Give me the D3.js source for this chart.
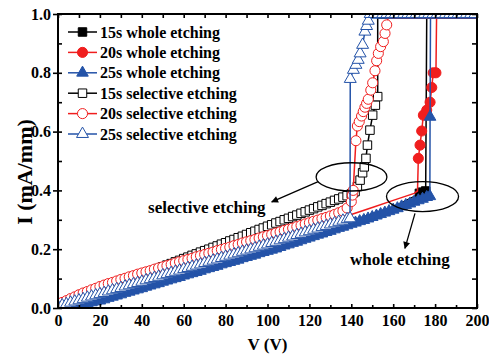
<!DOCTYPE html>
<html>
<head>
<meta charset="utf-8">
<script src="https://cdn.jsdelivr.net/npm/d3@7"></script>
<style>
body { margin: 0; background: #fff; }
svg { display: block; }
text { font-family: "Liberation Serif", "Times New Roman", serif; font-weight: bold; }
</style>
</head>
<body>
<svg id="svg" width="489" height="356"></svg>
<script>
// sweep voltages (V) and currents (mA/mm)
const V_SEL = [0,2,4,6,8,10,12,14,16,18,20,22,24,26,28,30,32,34,36,38,40,42,44,46,48,50,52,54,56,58,60,62,64,66,68,70,72,74,76,78,80,82,84,86,88,90,92,94,96,98,100,102,104,106,108,110,112,114,116,118,120,122,124,126,128,130,132,134,136,138,140]
const SEL15_I = [
	0.010,0.014,0.019,0.023,0.028,0.032,0.037,0.042,0.046,0.051,
	0.056,0.061,0.067,0.072,0.078,0.083,0.088,0.094,0.099,0.105,
	0.110,0.116,0.122,0.128,0.134,0.140,0.146,0.151,0.157,0.162,
	0.168,0.173,0.179,0.184,0.190,0.195,0.200,0.206,0.211,0.217,
	0.222,0.228,0.233,0.239,0.244,0.250,0.256,0.261,0.267,0.272,
	0.278,0.283,0.289,0.294,0.300,0.305,0.311,0.316,0.322,0.327,
	0.333,0.338,0.344,0.349,0.355,0.360,0.366,0.371,0.377,0.382,
	0.388]
const SEL20_I = [
	0.012,0.019,0.025,0.032,0.038,0.045,0.051,0.056,0.062,0.067,
	0.073,0.078,0.083,0.087,0.092,0.097,0.101,0.106,0.110,0.115,
	0.119,0.123,0.127,0.132,0.136,0.140,0.144,0.148,0.153,0.157,
	0.161,0.165,0.169,0.174,0.178,0.182,0.186,0.190,0.195,0.199,
	0.203,0.207,0.212,0.216,0.221,0.225,0.229,0.233,0.238,0.242,
	0.246,0.250,0.255,0.259,0.264,0.268,0.272,0.277,0.281,0.286,
	0.290,0.295,0.299,0.304,0.308,0.313,0.318,0.324,0.330,0.340,
	0.362]
const SEL25_I = [
	0.005,0.009,0.013,0.018,0.022,0.026,0.030,0.035,0.039,0.043,
	0.047,0.051,0.056,0.060,0.064,0.068,0.073,0.077,0.081,0.085,
	0.089,0.094,0.098,0.102,0.106,0.111,0.115,0.119,0.123,0.127,
	0.132,0.136,0.140,0.144,0.148,0.153,0.157,0.161,0.165,0.170,
	0.174,0.178,0.182,0.186,0.191,0.195,0.199,0.203,0.208,0.212,
	0.216,0.221,0.225,0.230,0.234,0.239,0.243,0.248,0.252,0.257,
	0.261,0.266,0.270,0.275,0.279,0.284,0.288,0.293,0.297,0.302]

const V_WHOLE = [0,2,4,6,8,10,12,14,16,18,20,22,24,26,28,30,32,34,36,38,40,42,44,46,48,50,52,54,56,58,60,62,64,66,68,70,72,74,76,78,80,82,84,86,88,90,92,94,96,98,100,102,104,106,108,110,112,114,116,118,120,122,124,126,128,130,132,134,136,138,140,142,144,146,148,150,152,154,156,158,160,162,164,166,168,170,172,174,176]
const WHOLE25_I = [
	-0.009,-0.005,0.000,0.004,0.007,0.010,0.013,0.016,0.019,0.022,
	0.025,0.029,0.034,0.038,0.042,0.046,0.051,0.055,0.059,0.063,
	0.067,0.072,0.076,0.080,0.084,0.089,0.093,0.097,0.101,0.105,
	0.110,0.114,0.118,0.122,0.126,0.131,0.135,0.139,0.143,0.148,
	0.152,0.156,0.160,0.164,0.169,0.173,0.177,0.181,0.186,0.190,
	0.194,0.198,0.202,0.207,0.212,0.216,0.221,0.225,0.230,0.235,
	0.239,0.244,0.249,0.253,0.258,0.262,0.267,0.272,0.276,0.281,
	0.286,0.290,0.295,0.299,0.304,0.309,0.314,0.319,0.324,0.329,
	0.334,0.339,0.345,0.350,0.355,0.361,0.366,0.371,0.377]
const WHOLE15_SWEEP = [[0,-0.006],[20,0.034],[40,0.076],[60,0.118],[80,0.161],[100,0.204],[120,0.249],[140,0.296],[160,0.344],[172,0.386]]
const WHOLE20_SWEEP = [[0,0.000],[20,0.040],[40,0.083],[60,0.126],[80,0.169],[100,0.212],[120,0.256],[140,0.318],[150,0.342],[160,0.366],[170,0.390],[171.6,0.398]]

// points after breakdown (plotted with markers)
const WHOLE15_RISE = [[172.5,0.390],[174.0,0.394],[175.5,0.398]]
const WHOLE20_RISE = [[172.0,0.509],[172.8,0.554],[173.6,0.602],[174.4,0.656],[176.0,0.673],[177.6,0.700],[178.4,0.750],[179.1,0.800],[180.4,0.800]]
const WHOLE25_RISE = [[177.5,0.380],[177.6,0.650]]
const SEL15_RISE = [[141.0,0.392],[141.8,0.396],[142.9,0.413],[144.2,0.435],[145.4,0.460],[146.2,0.480],[147.0,0.509],[147.7,0.554],[148.9,0.605],[150.2,0.656],[151.5,0.690],[152.6,0.719]]
const SEL20_RISE = [[140.5,0.384],[140.9,0.400],[142.2,0.569],[142.9,0.619],[143.8,0.634],[144.9,0.653],[145.7,0.668],[146.5,0.683],[147.3,0.696],[148.1,0.710],[149.3,0.741],[150.2,0.766],[151.3,0.807],[152.1,0.841],[152.9,0.866],[154.0,0.889],[155.3,0.906],[156.1,0.934],[156.9,0.963]]
const SEL25_RISE = [[139.4,0.305],[139.5,0.779],[141.0,0.810],[142.2,0.827],[143.3,0.844],[144.2,0.866],[145.4,0.895],[146.5,0.940],[147.3,0.959],[148.1,0.977]]
const SEL25_TOP_V = [149,151,153,155,157,159,161,163,165,167,169,171,173,175,177,179,181,183,185,187,189,191,193,195,197,199]
const SEL25_TOP_I = 1.0
const COMPLIANCE = 0.986

const X_MAJOR = [0,20,40,60,80,100,120,140,160,180,200]
const X_MINOR = [10,30,50,70,90,110,130,150,170,190]
const Y_MAJOR = [0,0.2,0.4,0.6,0.8,1.0]
const Y_MINOR = [0.1,0.3,0.5,0.7,0.9]

const ELLIPSES = [[140.1,0.446,16.9,0.048],[174.0,0.379,17.2,0.051]]
const ARROWS = [[[124.2,0.430],[102.0,0.361]],[[170.4,0.322],[165.6,0.203]]]
const LABELS = [['selective etching',43,0.323],['whole etching',139.4,0.146]]

const BLACK = '#000000', RED = '#f01e1e', BLUE = '#2453a8'
const SERIF = '"Liberation Serif", "Times New Roman", serif'

const $svg = d3.select('#svg')
const x = d3.scaleLinear().domain([0, 200]).range([58, 477])
const y = d3.scaleLinear().domain([0, 1]).range([308, 14])

const series = [
	{ name: '15s whole etching', color: BLACK, shape: d3.symbolSquare, size: 72, open: false,
		sweep: WHOLE15_SWEEP, marked: false, rise: WHOLE15_RISE, limitV: 176.0 },
	{ name: '20s whole etching', color: RED, shape: d3.symbolCircle, size: 80, open: false,
		sweep: WHOLE20_SWEEP, marked: false, rise: WHOLE20_RISE, limitV: 180.7 },
	{ name: '25s whole etching', color: BLUE, shape: d3.symbolTriangle, size: 58, open: false,
		sweep: d3.zip(V_WHOLE, WHOLE25_I), marked: true, rise: WHOLE25_RISE, limitV: 177.8 },
	{ name: '15s selective etching', color: BLACK, shape: d3.symbolSquare, size: 72, open: true,
		sweep: d3.zip(V_SEL, SEL15_I), marked: true, rise: SEL15_RISE, limitV: 152.6 },
	{ name: '20s selective etching', color: RED, shape: d3.symbolCircle, size: 80, open: true,
		sweep: d3.zip(V_SEL, SEL20_I), marked: true, rise: SEL20_RISE, limitV: 157.5 },
	{ name: '25s selective etching', color: BLUE, shape: d3.symbolTriangle, size: 62, open: true,
		sweep: d3.zip(V_SEL, SEL25_I), marked: true, rise: SEL25_RISE, limitV: 148.6,
		top: SEL25_TOP_V.map(v => [v, SEL25_TOP_I]) },
]

const defs = $svg.append('defs')
defs.append('clipPath').attr('id', 'plot')
	.append('rect')
	.attr('x', x(0)).attr('y', y(1))
	.attr('width', x(200) - x(0)).attr('height', y(0) - y(1))
defs.append('marker').attr('id', 'arrow')
	.attr('viewBox', '0 0 10 10').attr('refX', 9).attr('refY', 5)
	.attr('markerWidth', 9).attr('markerHeight', 7)
	.attr('markerUnits', 'userSpaceOnUse').attr('orient', 'auto')
	.append('path').attr('d', 'M0,0L10,5L0,10Z').attr('fill', BLACK)

const line = d3.line().x(d => x(d[0])).y(d => y(d[1]))
const $data = $svg.append('g').attr('clip-path', 'url(#plot)')

series.forEach(s => {
	const path = s.sweep.concat(s.rise, [[s.limitV, COMPLIANCE], [200, COMPLIANCE]])
	$data.append('path')
		.attr('d', line(path))
		.attr('fill', 'none')
		.attr('stroke', s.color)
		.attr('stroke-width', 1.5)
	const marks = (s.marked ? s.sweep : []).concat(s.rise, s.top || [])
	const sym = d3.symbol().type(s.shape).size(s.size)
	$data.append('g').selectAll('path')
		.data(marks)
		.join('path')
		.attr('transform', d => `translate(${x(d[0])},${y(d[1])})`)
		.attr('d', sym)
		.attr('fill', s.open ? '#fff' : s.color)
		.attr('stroke', s.color)
		.attr('stroke-width', 1)
})

// axes
const styleAxis = g => {
	g.select('.domain').remove()
	g.selectAll('line').attr('stroke-width', 1.6)
	g.selectAll('text')
		.attr('fill', BLACK)
		.style('font-family', SERIF)
		.style('font-size', '16px')
		.style('font-weight', 'bold')
}

$svg.append('g').attr('transform', `translate(0,${y(0)})`)
	.call(d3.axisBottom(x).tickValues(X_MAJOR).tickSize(-4).tickPadding(7).tickFormat(d3.format('d')))
	.call(styleAxis)
$svg.append('g').attr('transform', `translate(0,${y(0)})`)
	.call(d3.axisBottom(x).tickValues(X_MINOR).tickSize(-3).tickFormat(''))
	.call(styleAxis)
$svg.append('g').attr('transform', `translate(0,${y(1)})`)
	.call(d3.axisTop(x).tickValues(X_MAJOR.concat(X_MINOR)).tickSize(-4).tickFormat(''))
	.call(styleAxis)
$svg.append('g').attr('transform', `translate(${x(0)},0)`)
	.call(d3.axisLeft(y).tickValues(Y_MAJOR).tickSize(5).tickPadding(2).tickFormat(d3.format('.1f')))
	.call(styleAxis)
$svg.append('g').attr('transform', `translate(${x(0)},0)`)
	.call(d3.axisLeft(y).tickValues(Y_MAJOR.concat(Y_MINOR)).tickSize(-4).tickFormat(''))
	.call(styleAxis)
$svg.append('g').attr('transform', `translate(${x(200)},0)`)
	.call(d3.axisRight(y).tickValues(Y_MAJOR.concat(Y_MINOR)).tickSize(-5).tickFormat(''))
	.call(styleAxis)

$svg.append('rect')
	.attr('x', x(0)).attr('y', y(1))
	.attr('width', x(200) - x(0)).attr('height', y(0) - y(1))
	.attr('fill', 'none').attr('stroke', BLACK).attr('stroke-width', 2)

$svg.append('text')
	.attr('x', (x(0) + x(200)) / 2).attr('y', 350)
	.attr('text-anchor', 'middle').attr('font-size', 17)
	.text('V (V)')
$svg.append('text')
	.attr('transform', `translate(32,${(y(0) + y(1)) / 2 + 11}) rotate(-90)`)
	.attr('text-anchor', 'middle').attr('font-size', 22)
	.text('I (mA/mm)')

// annotations
ELLIPSES.forEach(([cx, cy, rx, ry]) => {
	$svg.append('ellipse')
		.attr('cx', x(cx)).attr('cy', y(cy))
		.attr('rx', x(cx + rx) - x(cx)).attr('ry', y(cy - ry) - y(cy))
		.attr('fill', 'none').attr('stroke', BLACK).attr('stroke-width', 1.3)
})
ARROWS.forEach(([a, b]) => {
	$svg.append('line')
		.attr('x1', x(a[0])).attr('y1', y(a[1]))
		.attr('x2', x(b[0])).attr('y2', y(b[1]))
		.attr('stroke', BLACK).attr('stroke-width', 1.3)
		.attr('marker-end', 'url(#arrow)')
})
LABELS.forEach(([t, v, i]) => {
	$svg.append('text').attr('x', x(v)).attr('y', y(i)).attr('font-size', 17).text(t)
})

// legend
const $legend = $svg.append('g')
series.forEach((s, i) => {
	const ly = 32 + i * 20.4
	$legend.append('line')
		.attr('x1', 68).attr('x2', 97).attr('y1', ly).attr('y2', ly)
		.attr('stroke', s.color).attr('stroke-width', 1.5)
	$legend.append('path')
		.attr('transform', `translate(82.5,${ly})`)
		.attr('d', d3.symbol().type(s.shape).size(s.size)())
		.attr('fill', s.open ? '#fff' : s.color)
		.attr('stroke', s.color).attr('stroke-width', 1)
	$legend.append('text')
		.attr('x', 100).attr('y', ly).attr('dy', '0.35em')
		.attr('font-size', 16)
		.text(s.name)
})
</script>
</body>
</html>
